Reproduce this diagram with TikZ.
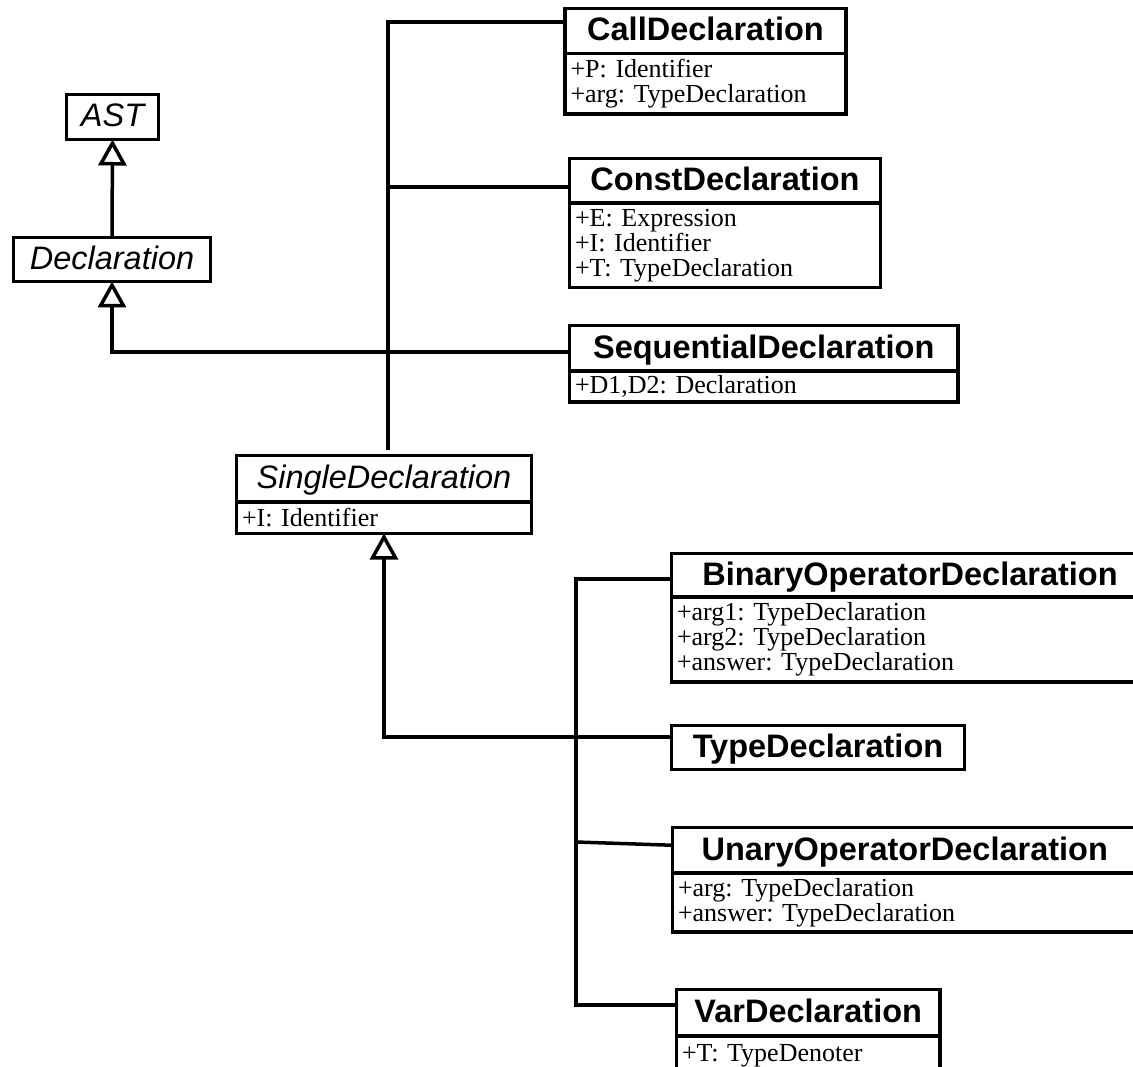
\documentclass[tikz,border=0pt]{standalone}
\usepackage{fontspec}
\setmainfont{Liberation Serif}
\setsansfont{Liberation Sans}
\usetikzlibrary{arrows.meta,calc}
\frenchspacing
\begin{document}
\frenchspacing
\begin{tikzpicture}[x=1pt,y=-1pt,
  box/.style={draw, line width=3.5pt, inner sep=0pt, outer sep=0pt, anchor=north west},
  hdr/.style={box, font=\sffamily\bfseries\fontsize{32.5pt}{36pt}\selectfont, text height=24pt, text depth=4pt},
  abst/.style={box, font=\sffamily\itshape\fontsize{32.5pt}{36pt}\selectfont, text height=24pt, text depth=4pt},
  attr/.style={box, font=\frenchspacing\fontsize{26pt}{25pt}\selectfont, align=left, inner xsep=5.5pt},
  conn/.style={line width=3.5pt},
  gen/.style={conn, -{Triangle[open, length=26pt, width=28pt]}}
]
\useasboundingbox (0,0) rectangle (1133,1067);

% classes
\node[abst, minimum width=92pt, minimum height=45pt] (ast) at (66.5,94.5) {AST};
\node[abst, minimum width=197pt, minimum height=44pt] (decl) at (13.5,237.5) {Declaration};

\node[hdr, minimum width=281pt, minimum height=45pt] (callH) at (565,8.5) {CallDeclaration};
\node[attr, minimum width=281pt, text width=270pt, minimum height=60.5pt] (callA) at (callH.south west) {+P: Identifier\\+arg: TypeDeclaration};

\node[hdr, minimum width=311pt, minimum height=44.5pt] (constH) at (569.5,158.5) {ConstDeclaration};
\node[attr, minimum width=311pt, text width=300pt, minimum height=84.5pt] (constA) at (constH.south west) {+E: Expression\\+I: Identifier\\+T: TypeDeclaration};

\node[hdr, minimum width=388.5pt, minimum height=45.5pt] (seqH) at (569.5,325.5) {SequentialDeclaration};
\node[attr, minimum width=388.5pt, text width=377.5pt, minimum height=31pt] (seqA) at (seqH.south west) {+D1,D2: Declaration};

\node[abst, minimum width=295pt, minimum height=46.5pt] (singleH) at (236.5,455.5) {SingleDeclaration};
\node[attr, minimum width=295pt, text width=284pt, minimum height=31.5pt] (singleA) at (singleH.south west) {+I: Identifier};

\node[hdr, minimum width=477pt, minimum height=43.5pt] (binH) at (671.5,553.5) {BinaryOperatorDeclaration};
\node[attr, minimum width=477pt, text width=466pt, minimum height=85pt] (binA) at (binH.south west) {+arg1: TypeDeclaration\\+arg2: TypeDeclaration\\+answer: TypeDeclaration};

\node[hdr, minimum width=293pt, minimum height=44pt] (typeN) at (671.5,725.5) {TypeDeclaration};

\node[hdr, minimum width=464.5pt, minimum height=45.5pt] (unaryH) at (672.5,827.5) {UnaryOperatorDeclaration};
\node[attr, minimum width=464.5pt, text width=453.5pt, minimum height=59pt] (unaryA) at (unaryH.south west) {+arg: TypeDeclaration\\+answer: TypeDeclaration};

\node[hdr, minimum width=263.5pt, minimum height=46.5pt] (varH) at (676.5,989.5) {VarDeclaration};
\node[attr, minimum width=263.5pt, text width=252.5pt, minimum height=40pt] (varA) at (varH.south west) {+T: TypeDenoter};

% generalizations
\draw[gen] (decl.north) -- (ast.south);
\draw[gen] ($(seqH.west)+(0,4)$) -| (decl.south);

% first bus
\coordinate (b1b) at (388,450);
\coordinate (b1t) at (388,22);
\coordinate (b1c) at (388,187);
\draw[conn] (b1b) -- (b1t) -- (b1t -| callH.west);
\draw[conn] (b1c) -- (b1c -| constH.west);

% SingleDeclaration generalization
\coordinate (tj) at (385,737);
\draw[gen] (tj -| typeN.west) -| (singleA.south);

% second bus
\coordinate (b2t) at (576,579);
\coordinate (b2u) at (576,842);
\coordinate (b2b) at (576,1005);
\draw[conn] (b2t -| binH.west) -- (b2t) -- (b2b) -- (b2b -| varH.west);
\draw[conn] (b2u) -- ($(unaryH.west)+(0,-5)$);
\end{tikzpicture}
\end{document}
